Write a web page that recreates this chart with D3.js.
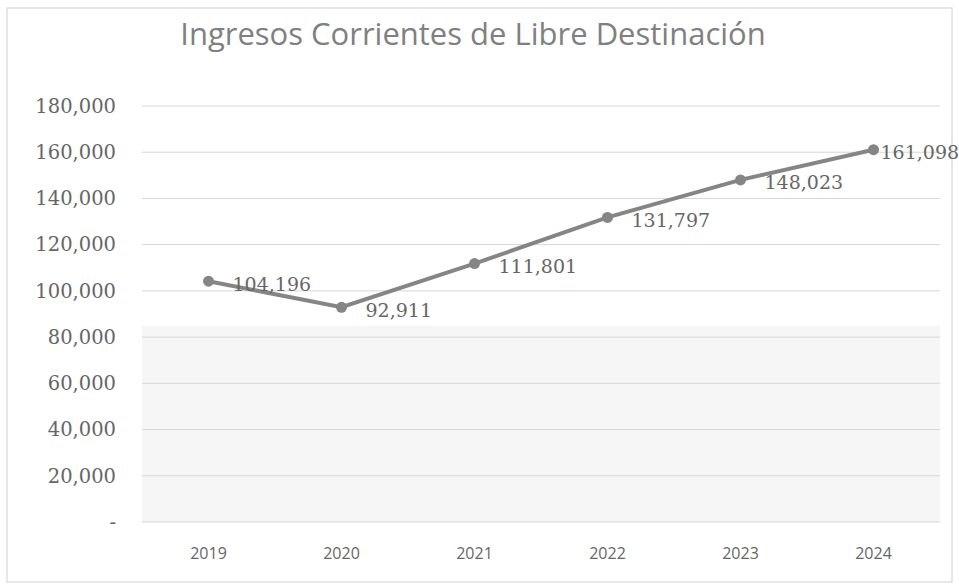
<!DOCTYPE html>
<html>
<head>
<meta charset="utf-8">
<script src="https://cdn.jsdelivr.net/npm/d3@7"></script>
<style>
  body { margin: 0; background: #fff; }
</style>
</head>
<body>
<div id="chart"></div>
<script>
var years = ["2019", "2020", "2021", "2022", "2023", "2024"];
var ingresos = [104196, 92911, 111801, 131797, 148023, 161098];
var yTicks = [0, 20000, 40000, 60000, 80000, 100000, 120000, 140000, 160000, 180000];

var W = 959, H = 585;
var margin = { top: 106, right: 19, bottom: 63, left: 142 };
var width = W - margin.left - margin.right,
    height = H - margin.top - margin.bottom;

var svg = d3.select("#chart").append("svg")
    .attr("width", W)
    .attr("height", H);

// frame of the chart area
svg.append("rect")
    .attr("x", 7).attr("y", 8)
    .attr("width", 945).attr("height", 574)
    .attr("fill", "#fff")
    .attr("stroke", "#d0d0d0");

var g = svg.append("g")
    .attr("transform", "translate(" + margin.left + "," + margin.top + ")");

var x = d3.scaleBand()
    .domain(years)
    .range([0, width]);

var y = d3.scaleLinear()
    .domain([0, 180000])
    .range([height, 0]);

// faint shading seen in the lower half of the scan
g.append("rect")
    .attr("x", 0).attr("y", y(85000))
    .attr("width", width).attr("height", height - y(85000))
    .attr("fill", "#f6f6f6");

// gridlines
g.selectAll(".grid")
    .data(yTicks)
    .enter().append("line")
    .attr("class", "grid")
    .attr("x1", 0).attr("x2", width)
    .attr("y1", function(d) { return y(d); })
    .attr("y2", function(d) { return y(d); })
    .attr("stroke", "#d6d6d6")
    .attr("stroke-width", 1);

// y axis labels
var yAxis = d3.axisLeft(y)
    .tickValues(yTicks)
    .tickSize(0)
    .tickPadding(26)
    .tickFormat(function(d) { return d === 0 ? "-" : d3.format(",")(d); });

g.append("g")
    .call(yAxis)
    .call(function(a) { a.select(".domain").remove(); })
    .selectAll("text")
    .attr("font-family", "DejaVu Serif, serif")
    .attr("font-size", 19.5)
    .attr("fill", "#666");

// x axis labels
var xAxis = d3.axisBottom(x)
    .tickSize(0)
    .tickPadding(26);

g.append("g")
    .attr("transform", "translate(0," + height + ")")
    .call(xAxis)
    .call(function(a) { a.select(".domain").remove(); })
    .selectAll("text")
    .attr("font-family", "Open Sans, sans-serif")
    .attr("font-size", 16)
    .attr("fill", "#666");

// line
var line = d3.line()
    .x(function(d, i) { return x(years[i]) + x.bandwidth() / 2; })
    .y(function(d) { return y(d); });

g.append("path")
    .datum(ingresos)
    .attr("d", line)
    .attr("fill", "none")
    .attr("stroke", "#858585")
    .attr("stroke-width", 4);

g.selectAll(".dot")
    .data(ingresos)
    .enter().append("circle")
    .attr("class", "dot")
    .attr("cx", function(d, i) { return x(years[i]) + x.bandwidth() / 2; })
    .attr("cy", function(d) { return y(d); })
    .attr("r", 5.5)
    .attr("fill", "#858585");

// data labels
g.selectAll(".lbl")
    .data(ingresos)
    .enter().append("text")
    .attr("class", "lbl")
    .attr("x", function(d, i) { return x(years[i]) + x.bandwidth() / 2 + (i === 5 ? 7 : 24); })
    .attr("y", function(d) { return y(d); })
    .attr("dy", "0.5em")
    .attr("font-family", "DejaVu Serif, serif")
    .attr("font-size", 19)
    .attr("fill", "#666")
    .text(function(d) { return d3.format(",")(d); });

// title
svg.append("text")
    .attr("x", 473)
    .attr("y", 45)
    .attr("text-anchor", "middle")
    .attr("font-family", "Open Sans, sans-serif")
    .attr("font-size", 31)
    .attr("fill", "#808080")
    .text("Ingresos Corrientes de Libre Destinación");
</script>
</body>
</html>
